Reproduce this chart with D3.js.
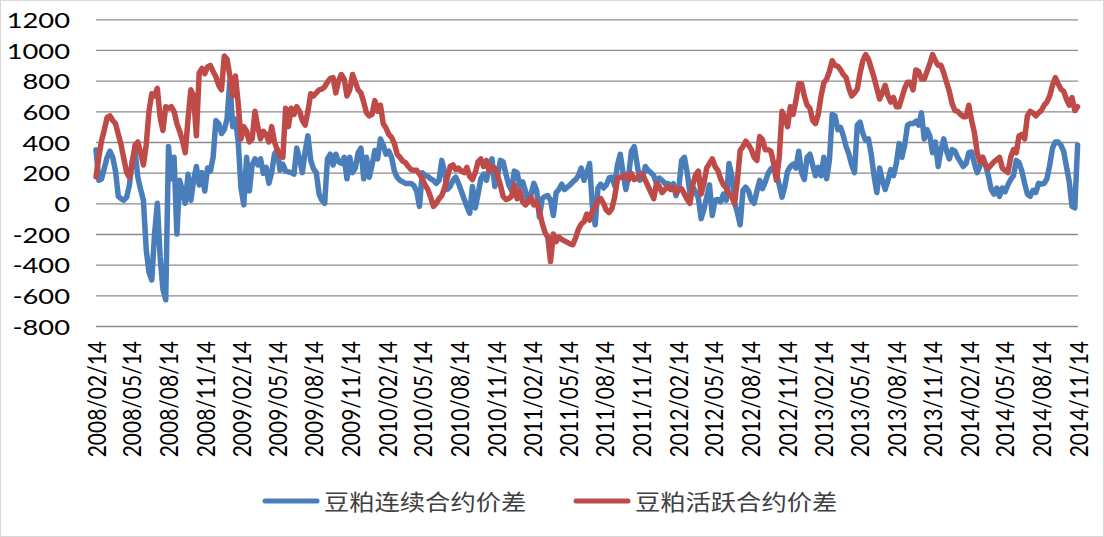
<!DOCTYPE html>
<html>
<head>
<meta charset="utf-8">
<script src="https://cdn.jsdelivr.net/npm/d3@7"></script>
<style>
  html, body { margin: 0; padding: 0; background: #fff; }
  #mainDiv { width: 1104px; height: 537px; }
</style>
</head>
<body>
<div id="mainDiv"></div>
<script>
'use strict';

// weekly readings, first point on 2008/02/14
var startDate = '2008/02/14';
var stepDays = 7;

var seriesNames = ['豆粕连续合约价差', '豆粕活跃合约价差'];

var continuousSpread = [
    350,150,160,230,300,340,300,210,45,30, 20,40,120,280,345,170,90,20,-300,-450,
    -500,-200,0,-350,-560,-630,370,160,300,-200, 150,80,0,190,20,150,240,120,200,80,
    230,210,300,540,520,455,480,550,800,500,
    550,400,100,-10,300,80,250,290,250,290, 195,235,130,200,320,350,215,255,210,205,
    200,190,360,290,200,340,440,280,225,200, 60,20,0,290,320,250,320,270,260,300,
    160,300,200,230,330,360,160,300,170,250, 345,
    290,420,380,320,340,300,210,170,150,140, 130,130,130,115,80,-20,200,180,175,160,
    150,130,150,280,200,90,110,150,170,130, 80,30,-20,-65,110,-30,60,160,190,150,
    230,290,110,180,280,270,190,120,85,210,
    200,110,140,80,10,60,130,85,-90,30, 45,50,20,-80,70,90,125,90,105,120,
    140,155,180,230,150,200,260,-20,-140,100, 125,100,120,165,170,115,250,320,200,90,
    180,340,370,260,150,170,240,215,200,180,
    130,165,150,130,130,115,128,50,100,280, 300,200,60,105,75,35,-100,-40,40,120,
    -80,20,25,10,60,20,260,180,0,-60, -140,85,105,80,20,0,80,150,95,140,
    195,225,235,195,120,40,110,210,240,255,
    230,340,200,155,300,320,250,180,235,180, 300,160,280,580,570,480,495,440,370,320,
    250,200,510,530,455,410,420,320,180,70, 230,150,90,150,220,180,260,390,300,380,
    510,520,520,535,510,590,420,480,440,330,
    400,240,350,420,340,290,350,340,300,270, 240,260,330,335,260,200,245,300,250,180,
    90,60,100,45,100,75,120,155,180,280, 265,210,130,60,45,85,70,130,125,130,
    160,250,360,400,400,380,340,240,140,-20, -30,380
];

var activeSpread = [
    173,300,410,480,560,570,540,520,450,380, 290,200,170,260,380,400,330,250,380,600,
    715,700,750,560,475,630,620,630,600,520, 470,410,330,550,740,700,440,850,880,845,
    890,900,860,825,770,740,960,940,830,700,
    830,650,420,500,470,400,420,600,500,420, 470,450,400,500,400,350,310,300,620,500,
    620,580,630,600,540,510,600,715,700,720, 740,745,760,790,815,820,720,800,840,810,
    700,740,840,790,740,720,660,590,570,580, 670,
    600,640,520,490,450,430,390,320,300,275, 265,240,220,215,215,190,160,120,90,40,
    -20,0,30,50,100,170,240,250,220,230, 210,200,235,175,155,200,270,290,240,280,
    210,240,230,180,120,45,25,30,45,120,
    30,80,10,-10,10,40,-10,10,-50,-130, -190,-220,-380,-200,-250,-220,-235,-245,-255,-265,
    -270,-225,-170,-135,-120,-70,-110,-50,-25,20, 30,0,-45,-60,-35,40,160,170,175,185,
    155,195,155,165,185,190,150,110,70,30,
    130,110,70,90,110,90,105,70,95,95, 60,25,0,120,185,210,60,130,230,260,
    290,240,215,160,120,100,60,40,0,150, 345,370,405,380,350,300,280,435,415,350,
    350,340,260,150,300,600,560,500,630,580,
    670,780,780,700,640,620,540,520,580,700, 785,810,860,930,900,895,870,840,820,750,
    700,720,745,850,930,970,940,880,820,750, 680,720,770,700,660,690,630,630,690,750,
    790,790,740,870,860,810,810,860,910,970,
    930,900,900,850,790,730,650,605,600,580, 565,565,640,540,460,330,270,300,250,230,
    250,270,285,300,230,215,200,300,350,330, 440,450,420,570,600,590,570,590,605,640,
    660,700,770,820,780,745,730,680,640,690, 605,630
];

var tickLabels = [
    '2008/02/14','2008/05/14','2008/08/14','2008/11/14',
    '2009/02/14','2009/05/14','2009/08/14','2009/11/14',
    '2010/02/14','2010/05/14','2010/08/14','2010/11/14',
    '2011/02/14','2011/05/14','2011/08/14','2011/11/14',
    '2012/02/14','2012/05/14','2012/08/14','2012/11/14',
    '2013/02/14','2013/05/14','2013/08/14','2013/11/14',
    '2014/02/14','2014/05/14','2014/08/14','2014/11/14'
];

var yTicks = [-800, -600, -400, -200, 0, 200, 400, 600, 800, 1000, 1200];

var chart = {};

chart.width = 1104;
chart.height = 537;
chart.plot = {left: 96, right: 1078, top: 19.3, bottom: 326};
chart.colors = ['#4a7ebb', '#be4b48'];
chart.stretch = 1.15;

chart.parseDate = d3.timeParse('%Y/%m/%d');

chart.xScale = d3.scaleTime()
    .domain([chart.parseDate(tickLabels[0]), chart.parseDate(tickLabels[tickLabels.length - 1])])
    .range([chart.plot.left, chart.plot.right]);

chart.yScale = d3.scaleLinear()
    .domain([-800, 1200])
    .range([chart.plot.bottom, chart.plot.top]);

chart.buildRows = function(values){
    var start = chart.parseDate(startDate);
    return values.map(function(v, i){
        return {date: d3.timeDay.offset(start, i * stepDays), value: v};
    });
};

chart.appendSVG = function(DOMObj){
    var svg = d3.select(DOMObj)
                .append('svg')
                .attr('width', chart.width)
                .attr('height', chart.height);

    svg.append('rect')
        .attr('x', 0.5).attr('y', 0.5)
        .attr('width', chart.width - 1).attr('height', chart.height - 1)
        .attr('fill', '#fff')
        .attr('stroke', '#d9d9d9');
    return svg;
};

chart.drawAxes = function(svg){
    var yAxis = d3.axisLeft(chart.yScale)
                    .tickValues(yTicks)
                    .tickSize(-(chart.plot.right - chart.plot.left))
                    .tickFormat(function(d){ return String(d); });

    var yg = svg.append('g')
                .attr('transform', 'translate(' + chart.plot.left + ',0)')
                .call(yAxis);
    yg.select('.domain').remove();
    yg.selectAll('.tick line')
        .attr('stroke', '#8c8c8c')
        .attr('stroke-width', 1.3);
    yg.selectAll('.tick text')
        .attr('x', null).attr('dy', null)
        .attr('transform', 'translate(-26,0) scale(1.3,1)')
        .attr('dominant-baseline', 'central')
        .attr('text-anchor', 'end')
        .style('font-family', 'Lato, "Liberation Sans", sans-serif')
        .style('font-size', '21px')
        .attr('fill', '#000');

    var xAxis = d3.axisBottom(chart.xScale)
                    .tickValues(tickLabels.map(chart.parseDate))
                    .tickSize(0)
                    .tickFormat(d3.timeFormat('%Y/%m/%d'));

    var xg = svg.append('g')
                .attr('transform', 'translate(0,' + chart.plot.bottom + ')')
                .call(xAxis);
    xg.select('.domain').remove();
    xg.selectAll('.tick text')
        .attr('y', null).attr('dy', null)
        .attr('transform', 'translate(0,15) scale(' + chart.stretch + ',1) rotate(-90)')
        .attr('dominant-baseline', 'central')
        .attr('text-anchor', 'end')
        .style('font-family', 'Lato, "Liberation Sans", sans-serif')
        .style('font-size', '21px')
        .attr('fill', '#000');
};

chart.drawLines = function(svg){
    var line = d3.line()
                .x(function(d){ return chart.xScale(d.date); })
                .y(function(d){ return chart.yScale(d.value); });

    [continuousSpread, activeSpread].forEach(function(values, i){
        svg.append('path')
            .datum(chart.buildRows(values))
            .attr('d', line)
            .attr('fill', 'none')
            .attr('stroke', chart.colors[i])
            .attr('stroke-width', 5.5)
            .attr('stroke-linejoin', 'round')
            .attr('stroke-linecap', 'round');
    });
};

chart.drawLegend = function(svg){
    var items = [{x: 265, text: seriesNames[0]}, {x: 576, text: seriesNames[1]}];
    var legendY = 501;

    var g = svg.selectAll('g.legend')
                .data(items)
                .enter().append('g')
                .attr('class', 'legend')
                .attr('transform', function(d){ return 'translate(' + d.x + ',' + legendY + ')'; });

    g.append('line')
        .attr('x1', 0).attr('x2', 52)
        .attr('stroke', function(d, i){ return chart.colors[i]; })
        .attr('stroke-width', 5)
        .attr('stroke-linecap', 'round');

    g.append('text')
        .attr('transform', 'translate(59,0) scale(' + chart.stretch + ',1)')
        .attr('dominant-baseline', 'central')
        .style('font-family', '"Noto Sans CJK SC", sans-serif')
        .style('font-size', '22px')
        .attr('fill', '#404040')
        .text(function(d){ return d.text; });
};

chart.start = function(){
    var svg = chart.appendSVG('#mainDiv');
    chart.drawAxes(svg);
    chart.drawLines(svg);
    chart.drawLegend(svg);
};

window.onload = chart.start;
</script>
</body>
</html>
